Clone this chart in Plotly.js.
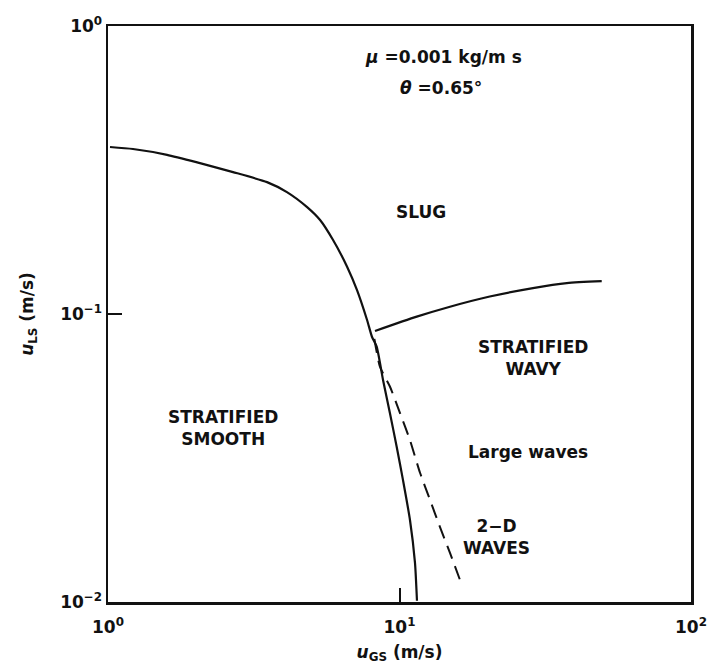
<!DOCTYPE html>
<html>
<head>
<meta charset="utf-8">
<script src="https://cdn.plot.ly/plotly-3.0.1.min.js"></script>
<style>html,body{margin:0;padding:0;background:#fff;}#chart{width:707px;height:671px;}</style>
</head>
<body>
<div id="chart"></div>
<script>
// Main boundary: stratified smooth / slug + stratified
const mainX = [1.016, 1.218, 1.594, 2.068, 2.685, 3.512, 4.11, 4.82, 5.34, 5.91, 6.61, 7.15, 7.74, 8.05, 8.35, 8.78, 9.27, 9.78, 10.28, 10.86, 11.30, 11.48];
const mainY = [0.380, 0.374, 0.357, 0.334, 0.311, 0.287, 0.265, 0.235, 0.212, 0.181, 0.146, 0.121, 0.0953, 0.0832, 0.0770, 0.0590, 0.0453, 0.0346, 0.0265, 0.0193, 0.0137, 0.0101];

// Slug / stratified wavy boundary
const slugX = [8.24, 11.46, 14.9, 20.4, 28.7, 37.5, 49.4];
const slugY = [0.0873, 0.0979, 0.106, 0.115, 0.123, 0.128, 0.130];

// Dashed: 2-D waves / large waves boundary
const waveX = [8.2, 8.57, 9.27, 10.04, 10.86, 11.76, 12.73, 13.77, 14.90, 16.34];
const waveY = [0.082, 0.0656, 0.0560, 0.0453, 0.0365, 0.0281, 0.0226, 0.0182, 0.0148, 0.0115];

// Tick labels
const xTickVals = [1, 10, 100];
const xTickText = ['10<sup>0</sup>', '10<sup>1</sup>', '10<sup>2</sup>'];
const yTickVals = [0.01, 0.1, 1];
const yTickText = ['10<sup>−2</sup>', '10<sup>−1</sup>', '10<sup>0</sup>'];

// Region labels
const labelText = [
  '<i>μ</i> =0.001 kg/m s',
  '<i>θ</i> =0.65°',
  'SLUG',
  'STRATIFIED<br>WAVY',
  'Large waves',
  '2−D<br>WAVES',
  'STRATIFIED<br>SMOOTH'
];
const labelX = [14.1, 13.9, 11.85, 28.7, 27.6, 21.6, 2.48];
const labelY = [0.78, 0.61, 0.226, 0.0703, 0.0332, 0.0168, 0.0402];

const lineStyle = {color: '#111', width: 2.2, shape: 'spline', smoothing: 0.6};
const traces = [
  {x: mainX, y: mainY, mode: 'lines', line: lineStyle, hoverinfo: 'skip'},
  {x: slugX, y: slugY, mode: 'lines', line: lineStyle, hoverinfo: 'skip'},
  {x: waveX, y: waveY, mode: 'lines', line: {color: '#111', width: 2, dash: '14px,8px', shape: 'spline', smoothing: 0.6}, hoverinfo: 'skip'}
];

const font = {family: 'DejaVu Sans', size: 17, color: '#111', weight: 'bold'};

const annotations = labelText.map((t, i) => ({
  text: t,
  x: Math.log10(labelX[i]),
  y: Math.log10(labelY[i]),
  xref: 'x', yref: 'y',
  showarrow: false,
  font: font,
  align: 'center'
}));

const layout = {
  width: 707, height: 671,
  margin: {l: 108, r: 16, t: 26, b: 69},
  paper_bgcolor: '#fff', plot_bgcolor: '#fff',
  showlegend: false,
  font: font,
  xaxis: {
    type: 'log', range: [0, 2],
    tickvals: xTickVals, ticktext: xTickText,
    ticks: 'inside', ticklen: 14, tickwidth: 2, tickcolor: '#111',
    showline: true, linecolor: '#111', linewidth: 2.5, mirror: true,
    showgrid: false, zeroline: false,
    ticklabelstandoff: 8,
    tickfont: {family: 'DejaVu Sans', size: 17, color: '#111', weight: 'bold'},
    title: {text: '<i>u</i><sub>GS</sub> (m/s)', standoff: 10, font: {family: 'DejaVu Sans', size: 17, color: '#111', weight: 'bold'}}
  },
  yaxis: {
    type: 'log', range: [-2, 0],
    tickvals: yTickVals, ticktext: yTickText,
    ticks: 'inside', ticklen: 14, tickwidth: 2, tickcolor: '#111',
    showline: true, linecolor: '#111', linewidth: 2.5, mirror: true,
    showgrid: false, zeroline: false,
    tickfont: {family: 'DejaVu Sans', size: 17, color: '#111', weight: 'bold'},
    title: {text: '<i>u</i><sub>LS</sub> (m/s)', standoff: 22, font: {family: 'DejaVu Sans', size: 17, color: '#111', weight: 'bold'}}
  },
  annotations: annotations
};

Plotly.newPlot('chart', traces, layout, {staticPlot: true, displayModeBar: false});
</script>
</body>
</html>
